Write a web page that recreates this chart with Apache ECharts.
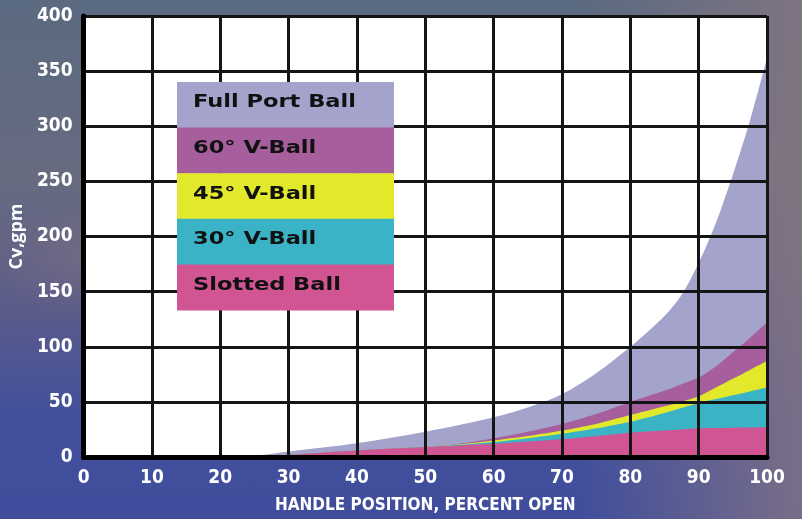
<!DOCTYPE html>
<html>
<head>
<meta charset="utf-8">
<script src="https://cdn.jsdelivr.net/npm/echarts@6/dist/echarts.min.js"></script>
<style>
html,body{margin:0;padding:0;}
body{
  width:802px;height:519px;overflow:hidden;
  background:
    radial-gradient(ellipse 120px 60px at 100px 260px, rgba(150,120,130,0.35), rgba(0,0,0,0)),
    linear-gradient(to right, rgba(0,0,0,0) 72%, rgba(135,118,130,0.8) 100%),
    linear-gradient(to bottom, #5a6a80 0%, #676b80 35%, #5a5b8a 60%, #42509c 80%, #3f4d9c 100%);
}
#chart{width:802px;height:519px;}
</style>
</head>
<body>
<div id="chart"></div>
<script>
// Handle position (percent open)
const positions = [0, 10, 20, 25, 30, 40, 50, 55, 60, 65, 70, 75, 80, 85, 87.5, 90, 92.5, 95, 97.5, 100];
// Cv (gpm), upper edge of each band
const fullPortBall = [0, 0, 0, 1, 5, 12.5, 23, 29, 36, 45, 57, 76, 100, 128, 147, 176, 212, 256, 305, 362];
const vBall60      = [0, 0, 0, 0.5, 2, 6, 9, 12, 17, 23, 30, 39, 50, 60, 66, 72, 82, 95, 108, 122];
const vBall45      = [0, 0, 0, 0.5, 2, 6, 9, 11.5, 15, 19, 24, 30, 38, 46, 50, 55, 63, 71, 79, 87];
const vBall30      = [0, 0, 0, 0.5, 2, 6, 9, 11, 13.5, 17, 21, 26, 32, 40, 44.5, 49, 52.5, 56, 59.5, 63];
const slottedBall  = [0, 0, 0, 0.5, 2, 6, 9, 10.5, 12, 14, 16, 19, 22, 24, 25, 26, 26.3, 26.6, 26.8, 27];

const seriesNames = ['Full Port Ball', '60° V-Ball', '45° V-Ball', '30° V-Ball', 'Slotted Ball'];
const seriesValues = [fullPortBall, vBall60, vBall45, vBall30, slottedBall];
const seriesColors = ['#a4a3cc', '#a75e9c', '#e2e92a', '#3bb3c7', '#d05592'];

const xTicks = [0, 10, 20, 30, 40, 50, 60, 70, 80, 90, 100];
const yTicks = [0, 50, 100, 150, 200, 250, 300, 350, 400];

const condensed = "'Liberation Sans Narrow','DejaVu Sans Condensed','Roboto',sans-serif";

const chart = echarts.init(document.getElementById('chart'), null, {renderer: 'canvas'});

const series = seriesNames.map((name, i) => ({
  name: name,
  type: 'line',
  data: positions.map((p, j) => [p, seriesValues[i][j]]),
  smooth: 0.3,
  showSymbol: false,
  symbol: 'none',
  lineStyle: {width: 0},
  areaStyle: {color: seriesColors[i], opacity: 1},
  itemStyle: {color: seriesColors[i]},
  z: 2 + i,
  silent: true
}));

const legendTop = 82, bandH = 45.6, legendLeft = 177, legendW = 217;
const legendGraphics = [];
seriesNames.forEach((name, i) => {
  legendGraphics.push({
    type: 'rect',
    left: legendLeft, top: legendTop + i * bandH,
    shape: {width: legendW, height: bandH + 0.5},
    style: {fill: seriesColors[i]},
    z: 100
  });
  legendGraphics.push({
    type: 'text',
    x: legendLeft + 16, y: legendTop + i * bandH + bandH / 2 - 11,
    scaleX: 1.25,
    style: {text: name, fill: '#111', font: "bold 18px 'DejaVu Sans', Verdana, sans-serif"},
    z: 101
  });
});

chart.setOption({
  animation: false,
  backgroundColor: 'transparent',
  grid: {left: 79, right: 35, top: 16, bottom: 55, show: true, backgroundColor: '#ffffff', borderWidth: 0},
  xAxis: [{
    type: 'value', min: 0, max: 100, interval: 10,
    z: 20,
    name: 'HANDLE POSITION, PERCENT OPEN',
    nameLocation: 'middle', nameGap: 40,
    nameTextStyle: {color: '#ffffff', fontWeight: 'bold', fontSize: 17, fontFamily: condensed},
    axisLine: {show: true, onZero: false, lineStyle: {color: '#000', width: 5}},
    axisTick: {show: false},
    axisLabel: {color: '#ffffff', fontWeight: 'bold', fontSize: 19, fontFamily: condensed, margin: 12,
      formatter: v => xTicks.includes(v) ? String(v) : ''},
    splitLine: {show: true, lineStyle: {color: '#151515', width: 3}}
  }, {
    type: 'value', min: 0, max: 100, position: 'top', z: 20,
    axisLine: {show: true, lineStyle: {color: '#000', width: 4}},
    axisTick: {show: false}, axisLabel: {show: false}, splitLine: {show: false}
  }],
  yAxis: [{
    type: 'value', min: 0, max: 400, interval: 50,
    z: 20,
    name: 'Cv,gpm',
    nameLocation: 'middle', nameGap: 53,
    nameTextStyle: {color: '#ffffff', fontWeight: 'bold', fontSize: 18, fontFamily: "'Open Sans','Noto Sans',sans-serif"},
    axisLine: {show: true, onZero: false, lineStyle: {color: '#000', width: 5}},
    axisTick: {show: false},
    axisLabel: {color: '#ffffff', fontWeight: 'bold', fontSize: 19, fontFamily: condensed, margin: 11,
      formatter: v => yTicks.includes(v) ? String(v) : ''},
    splitLine: {show: true, lineStyle: {color: '#151515', width: 3}}
  }, {
    type: 'value', min: 0, max: 400, position: 'right', z: 20,
    axisLine: {show: true, lineStyle: {color: '#000', width: 4}},
    axisTick: {show: false}, axisLabel: {show: false}, splitLine: {show: false}
  }],
  series: series,
  graphic: legendGraphics
});
</script>
</body>
</html>
